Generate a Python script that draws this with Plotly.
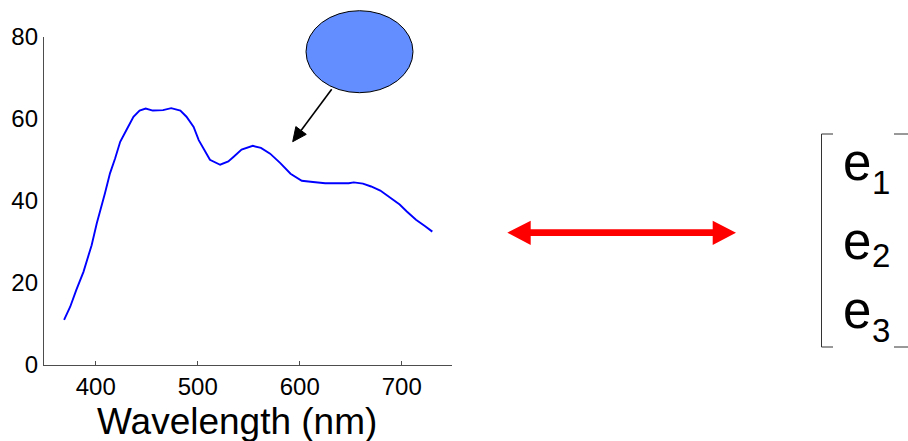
import plotly.graph_objects as go

# ---------------- data ----------------
wavelength_nm = [369, 375, 381, 388, 396, 401, 409, 414, 419, 424, 430, 437, 443, 449,
                 456, 466, 474, 483, 489, 496, 501, 507, 512, 522, 530, 535, 543, 554,
                 562, 571, 581, 591, 602, 613, 625, 648, 653, 662, 670, 679, 689, 698,
                 705, 714, 723, 730]
spectrum = [11.0, 14.2, 18.3, 22.7, 29.2, 34.5, 41.8, 46.7, 50.3, 54.4, 57.2, 60.5, 62.0, 62.5,
            62.0, 62.1, 62.6, 62.0, 60.5, 58.0, 54.8, 52.0, 50.0, 48.8, 49.6, 50.7, 52.5, 53.4,
            52.9, 51.5, 49.2, 46.6, 44.9, 44.6, 44.3, 44.3, 44.5, 44.2, 43.5, 42.5, 40.7, 39.1,
            37.4, 35.4, 33.8, 32.5]
x_ticks = [400, 500, 600, 700]
y_ticks = [0, 20, 40, 60, 80]
x_title = "Wavelength (nm)"
vector_labels = ["e", "e", "e"]
vector_subs = ["1", "2", "3"]

W, H = 908, 441
FONT = "Liberation Sans, Arial, sans-serif"


def px(x):
    return x / W


def py(y):
    return 1 - y / H


fig = go.Figure()
fig.add_trace(go.Scatter(x=wavelength_nm, y=spectrum, mode="lines",
                         line=dict(color="#0000FF", width=1.9), showlegend=False,
                         hoverinfo="skip"))

shapes = []
# ellipse
shapes.append(dict(type="circle", xref="paper", yref="paper",
                   x0=px(306), x1=px(413), y0=py(92.7), y1=py(10.7),
                   fillcolor="#638EFF", line=dict(color="black", width=1)))

# black arrow
tail = (331.7, 89.3)
tip = (292.7, 141.7)
dx, dy = tip[0] - tail[0], tip[1] - tail[1]
L = (dx * dx + dy * dy) ** 0.5
ux, uy = dx / L, dy / L
hl, hw = 14, 6.5
bx, by = tip[0] - hl * ux, tip[1] - hl * uy
p1 = (bx - uy * hw, by + ux * hw)
p2 = (bx + uy * hw, by - ux * hw)
shapes.append(dict(type="line", xref="paper", yref="paper",
                   x0=px(tail[0]), y0=py(tail[1]), x1=px(bx), y1=py(by),
                   line=dict(color="black", width=1.6)))
shapes.append(dict(type="path", xref="paper", yref="paper",
                   path=f"M {px(tip[0])},{py(tip[1])} L {px(p1[0])},{py(p1[1])} "
                        f"L {px(p2[0])},{py(p2[1])} Z",
                   fillcolor="black", line=dict(color="black", width=1)))

# red double arrow
pts = [(507.3, 232.7), (530.7, 220.7), (530.7, 229.3), (712.7, 229.3), (712.7, 220.7),
       (736, 232.7), (712.7, 245), (712.7, 236), (530.7, 236), (530.7, 245)]
path = "M " + " L ".join(f"{px(a)},{py(b)}" for a, b in pts) + " Z"
shapes.append(dict(type="path", xref="paper", yref="paper", path=path,
                   fillcolor="#FF0000", line=dict(color="#FF0000", width=0)))

# bracket
bc = "#333333"
for (x0, y0, x1, y1) in [(821.5, 134, 821.5, 347), (821.5, 134, 833, 134),
                         (821.5, 347, 833, 347), (894, 134, 908, 134), (894, 347, 908, 347)]:
    shapes.append(dict(type="line", xref="paper", yref="paper",
                       x0=px(x0), y0=py(y0), x1=px(x1), y1=py(y1),
                       line=dict(color=bc, width=1)))

annotations = []
e_centers = [162.8, 241.0, 310.5]
sub_centers = [182.7, 255.8, 330.5]
for lab, sub, ey, sy in zip(vector_labels, vector_subs, e_centers, sub_centers):
    annotations.append(dict(text=lab, xref="paper", yref="paper", x=px(857), y=py(ey),
                            xanchor="center", yanchor="middle", showarrow=False,
                            font=dict(family=FONT, size=51, color="black")))
    annotations.append(dict(text=sub, xref="paper", yref="paper", x=px(881), y=py(sy),
                            xanchor="center", yanchor="middle", showarrow=False,
                            font=dict(family=FONT, size=33, color="black")))

annotations.append(dict(text=x_title, xref="paper", yref="paper", x=px(237), y=py(421),
                        xanchor="center", yanchor="middle", showarrow=False,
                        font=dict(family=FONT, size=37, color="black")))

axis_color = "#4d4d4d"
fig.update_layout(
    width=W, height=H, margin=dict(l=0, r=0, t=0, b=0),
    paper_bgcolor="white", plot_bgcolor="white",
    xaxis=dict(domain=[px(44), px(452)], range=[349.3, 749.3], tickvals=x_ticks,
               ticks="inside", ticklen=4, tickcolor=axis_color, tickwidth=1,
               showline=True, linecolor=axis_color, linewidth=1.3, showgrid=False,
               zeroline=False, automargin=False,
               tickfont=dict(family=FONT, size=24, color="black")),
    yaxis=dict(domain=[py(365), py(36.7)], range=[0, 80], tickvals=y_ticks,
               ticks="", showline=True, linecolor=axis_color, linewidth=1.3,
               showgrid=False, zeroline=False, automargin=False,
               tickfont=dict(family=FONT, size=24, color="black")),
    shapes=shapes, annotations=annotations,
)

fig.write_html("out.html")
